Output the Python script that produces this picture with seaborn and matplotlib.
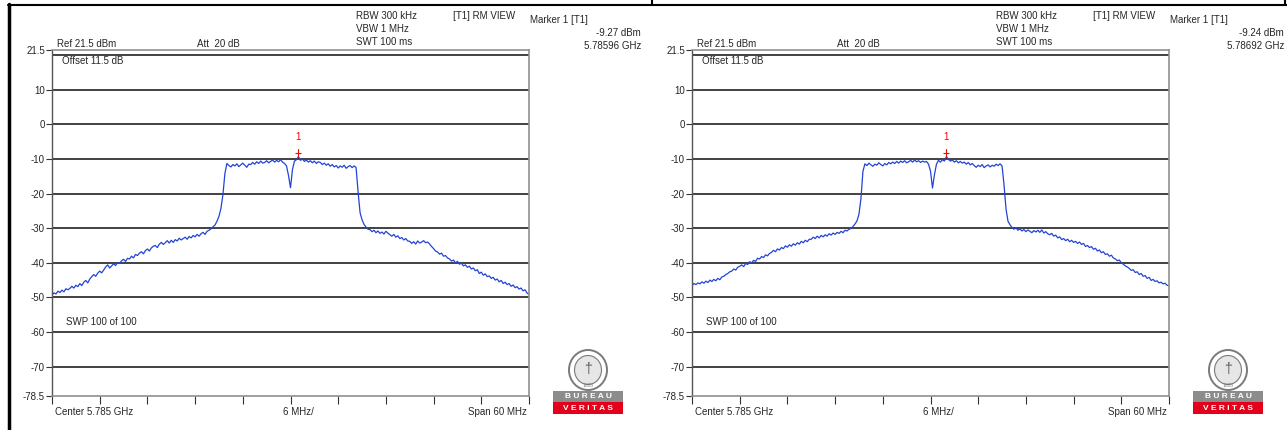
import numpy as np
import matplotlib
matplotlib.use("Agg")
import matplotlib.pyplot as plt
from matplotlib.patches import Ellipse, Rectangle
import seaborn as sns

# sweep settings: 60 MHz span read as 241 points, 0.25 MHz apart
f_step = 0.25
n_points = 241
freq = np.arange(n_points) * f_step

# trace (dBm), 20 values = 5 MHz per row
trace_left = [
    -49.3, -48.7, -49.0, -48.2, -48.6, -47.9, -48.4, -47.5, -47.8, -47.4, -46.8, -47.3, -46.5, -46.9, -46.0, -46.6, -45.6, -45.1, -45.8, -44.7,
    -44.0, -43.4, -43.9, -43.0, -42.4, -42.9, -42.1, -41.2, -40.6, -41.5, -40.9, -40.3, -40.8, -39.9, -40.2, -39.4, -39.0, -39.6, -38.7, -38.9,
    -38.1, -38.6, -37.6, -37.9, -37.2, -36.8, -37.4, -36.5, -36.0, -36.6, -35.7, -35.2, -35.0, -35.6, -34.6, -34.1, -34.7, -34.2, -33.6, -34.3,
    -33.5, -34.1, -33.3, -33.7, -32.9, -33.4, -33.0, -32.6, -33.2, -32.4, -32.8, -32.1, -32.5, -31.8, -32.3, -31.6, -31.2, -31.8, -30.9, -30.6,
    -30.2, -29.6, -29.1, -28.0, -26.6, -24.3, -20.3, -14.2, -11.3, -11.9, -12.3, -11.6, -12.0, -11.4, -12.2, -11.7, -11.2, -11.8, -12.4, -11.5,
    -11.6, -11.0, -11.5, -10.8, -11.3, -10.6, -11.2, -11.0, -10.5, -11.1, -10.7, -10.3, -10.9, -10.4, -10.8, -10.2, -10.9, -11.3, -12.0, -14.8,
    -18.3, -13.0, -10.6, -10.2, -9.3, -10.4, -10.0, -10.7, -10.3, -10.9, -10.5, -11.1, -10.6, -11.3, -10.8, -11.0, -11.6, -11.2, -11.8, -11.4,
    -12.1, -11.6, -12.3, -11.9, -12.6, -12.0, -12.4, -11.8, -12.7, -12.2, -11.9, -12.5, -12.0, -12.5, -19.5, -25.5, -27.6, -28.9, -29.7, -30.3,
    -30.4, -31.0, -30.6, -31.3, -30.8, -31.5, -31.1, -31.7, -30.9, -31.4, -31.9, -32.3, -31.8, -32.6, -32.2, -33.0, -32.7, -33.4, -33.0, -33.7,
    -33.8, -34.4, -33.9, -34.6, -33.7, -34.3, -34.0, -33.6, -34.2, -34.0, -34.6, -35.3, -35.9, -36.6, -36.9, -37.5, -37.2, -38.1, -37.9, -38.6,
    -38.9, -39.5, -39.2, -40.0, -39.6, -40.4, -40.1, -40.9, -40.6, -41.3, -41.0, -41.8, -41.5, -42.3, -42.0, -43.1, -42.7, -43.6, -43.2, -44.0,
    -43.8, -44.5, -44.2, -45.0, -44.7, -45.5, -45.1, -46.0, -45.6, -46.3, -46.0, -46.8, -46.4, -47.2, -46.9, -47.6, -47.3, -48.1, -47.8, -48.7,
    -49.2,
]

# trace (dBm)
trace_right = [
    -46.6, -46.0, -46.3, -45.8, -46.1, -45.5, -45.9, -45.3, -45.7, -45.0, -45.4, -44.8, -45.2, -44.5, -44.9, -44.1, -43.9, -43.4, -43.1, -42.6,
    -42.4, -41.8, -42.1, -41.3, -41.0, -40.6, -41.1, -40.2, -40.5, -39.7, -40.0, -39.3, -39.6, -38.7, -38.9, -38.2, -38.5, -37.7, -38.0, -37.3,
    -37.0, -36.4, -36.8, -36.0, -36.3, -35.6, -35.9, -35.1, -35.5, -34.8, -35.2, -34.5, -34.9, -34.2, -34.6, -33.8, -34.2, -33.5, -33.9, -33.2,
    -33.2, -32.6, -33.0, -32.3, -32.8, -32.1, -32.5, -31.9, -32.3, -31.6, -32.0, -31.4, -31.8, -31.2, -31.5, -30.9, -31.3, -30.6, -30.8, -30.3,
    -30.1, -29.5, -28.8, -27.9, -26.0, -21.5, -13.6, -11.4, -11.9, -11.2, -11.7, -12.1, -11.5, -11.8, -11.1, -11.6, -12.0, -11.3, -11.7, -11.0,
    -11.4, -10.9, -11.3, -10.7, -11.2, -10.6, -11.0, -10.5, -11.1, -10.8, -10.4, -10.9, -10.3, -10.8, -10.5, -11.0, -10.6, -10.9, -10.7, -11.5,
    -13.5, -18.4, -14.5, -11.5, -10.4, -10.9, -10.2, -10.6, -9.3, -10.1, -10.6, -10.3, -10.9, -10.5, -11.1, -10.7, -11.2, -10.9, -11.5, -11.0,
    -11.7, -11.3, -11.9, -12.4, -11.8, -12.2, -11.6, -12.5, -12.0, -11.7, -12.3, -11.8, -12.1, -11.5, -11.9, -11.4, -12.0, -17.5, -24.5, -28.0,
    -29.0, -29.8, -30.3, -29.9, -30.6, -30.2, -30.8, -30.4, -31.0, -30.5, -30.9, -31.3, -30.7, -31.1, -30.6, -31.2, -30.5, -31.4, -31.0, -31.6,
    -31.9, -31.5, -32.3, -32.0, -32.8, -32.5, -33.3, -33.0, -33.6, -33.2, -33.9, -33.5, -34.1, -33.8, -34.4, -34.0, -34.7, -34.4, -35.3, -35.0,
    -35.6, -35.3, -36.1, -35.8, -36.6, -36.3, -37.1, -36.8, -37.6, -37.4, -38.1, -37.8, -38.6, -38.9, -39.4, -39.2, -40.0, -40.4, -40.9, -41.2,
    -41.6, -42.2, -42.0, -42.8, -42.6, -43.4, -43.1, -43.9, -43.7, -44.5, -44.2, -45.1, -44.8, -45.4, -45.2, -45.8, -45.6, -46.1, -45.9, -46.5,
    -46.6,
]

# marker 1 readouts (MHz above 5.755 GHz, dBm)
marker_freq = [30.96, 31.92]
marker_level = [-9.27, -9.24]
marker_text = [["-9.27 dBm", "5.78596 GHz"], ["-9.24 dBm", "5.78692 GHz"]]

y_ticks = [21.5, 10, 0, -10, -20, -30, -40, -50, -60, -70, -78.5]
y_ticklabels = ["21.5", "10", "0", "-10", "-20", "-30", "-40", "-50", "-60", "-70", "-78.5"]
grid_levels = [20, 10, 0, -10, -20, -30, -40, -50, -60, -70]
x_ticks = [0, 6, 12, 18, 24, 30, 36, 42, 48, 54, 60]

W, H = 1287, 430


def px(x, y):
    # pixel position -> figure fraction
    return x / W, 1 - y / H


sns.set_style("white")
plt.rcParams['font.family'] = ['Liberation Sans', 'DejaVu Sans']
plt.rcParams['font.size'] = 7

fig = plt.figure(figsize=(W / 100, H / 100), dpi=100)

# table borders of the report page
fig.add_artist(plt.Line2D([8 / W, 1], [1 - 5 / H] * 2, color="black", lw=1.5))
fig.add_artist(plt.Line2D([9 / W] * 2, [0, 1 - 4 / H], color="black", lw=2.5))
fig.add_artist(plt.Line2D([652 / W] * 2, [1 - 5 / H, 1], color="black", lw=1.5))
fig.add_artist(plt.Line2D([1285 / W] * 2, [1 - 5 / H, 1], color="black", lw=1.5))

traces = [trace_left, trace_right]
offsets = [0, 640]
ax_left = [52, 692]

for i in range(2):
    dx = offsets[i]
    ax = fig.add_axes([ax_left[i] / W, 1 - 396 / H, 477 / W, 346 / H])
    sns.lineplot(x=freq, y=traces[i], ax=ax, color="#2244d6", linewidth=0.9)
    ax.set_xlim(0, 60)
    ax.set_ylim(-78.5, 21.5)
    ax.hlines(grid_levels, 0, 60, color="#333333", lw=1.3, zorder=1)

    ax.set_yticks(y_ticks)
    ax.set_yticklabels(y_ticklabels)
    ax.set_xticks(x_ticks)
    ax.set_xticklabels([])
    ax.tick_params(axis="y", direction="out", length=4, width=0.8, color="#333333", pad=1, labelsize=7)
    ax.tick_params(axis="x", direction="out", length=6, width=0.8, color="#333333")
    ax.tick_params(left=True, bottom=True)
    for side in ["top", "right", "bottom"]:
        ax.spines[side].set_color("#909090")
        ax.spines[side].set_linewidth(1.2)
    ax.spines["left"].set_color("#555555")
    ax.spines["left"].set_linewidth(1.0)

    # marker 1
    mf, ml = marker_freq[i], marker_level[i]
    ax.plot([mf, mf], [ml, ml + 2.2], color="red", lw=0.8)
    ax.plot([mf], [ml + 1.0], marker="_", ms=5, mew=0.8, color="red")
    ax.text(mf, ml + 5.6, "1", color="red", ha="center", va="center", fontsize=7)

    ax.text(1.3, 18.4, "Offset 11.5 dB", ha="left", va="center", fontsize=7)
    ax.text(1.8, -57.2, "SWP 100 of 100", ha="left", va="center", fontsize=7)
    ax.set_xlabel("")
    ax.set_ylabel("")

    # header lines above the screen
    fig.text(*px(57 + dx, 44), "Ref 21.5 dBm", ha="left", va="center")
    fig.text(*px(197 + dx, 44), "Att  20 dB", ha="left", va="center")
    fig.text(*px(356 + dx, 16), "RBW 300 kHz", ha="left", va="center")
    fig.text(*px(356 + dx, 29), "VBW 1 MHz", ha="left", va="center")
    fig.text(*px(356 + dx, 42), "SWT 100 ms", ha="left", va="center")
    fig.text(*px(453 + dx, 16), "[T1] RM VIEW", ha="left", va="center")
    fig.text(*px(530 + dx, 20), "Marker 1 [T1]", ha="left", va="center")
    fig.text(*px(641 + dx * 1.005, 33), marker_text[i][0], ha="right", va="center")
    fig.text(*px(641 + dx * 1.005, 46), marker_text[i][1], ha="right", va="center")

    # footer
    fig.text(*px(55 + dx, 412), "Center 5.785 GHz", ha="left", va="center")
    fig.text(*px(283 + dx, 412), "6 MHz/", ha="left", va="center")
    fig.text(*px(527 + dx, 412), "Span 60 MHz", ha="right", va="center")

    # Bureau Veritas logo
    lx = 553 + dx
    lax = fig.add_axes([lx / W, 1 - 414 / H, 70 / W, 66 / H])
    lax.set_xlim(0, 70)
    lax.set_ylim(66, 0)
    lax.axis("off")
    lax.add_patch(Ellipse((35, 22), 38, 40, fc="white", ec="#7a7a7a", lw=1.4, clip_on=False))
    lax.add_patch(Ellipse((35, 22), 27, 29, fc="#e6e6e6", ec="#7a7a7a", lw=0.8, clip_on=False))
    lax.text(35, 21, "\u2020", ha="center", va="center", fontsize=10, color="#555555")
    lax.text(35, 37.5, "1828", ha="center", va="center", fontsize=3.5, color="#7a7a7a")
    lax.add_patch(Rectangle((0, 43), 70, 11, fc="#8c8c8c", ec="none"))
    lax.add_patch(Rectangle((0, 54), 70, 12, fc="#e3001b", ec="none"))
    lax.text(35, 48.5, "B U R E A U", ha="center", va="center", fontsize=6, color="white", weight="bold")
    lax.text(35, 60, "V E R I T A S", ha="center", va="center", fontsize=6, color="white", weight="bold")

fig.savefig("out.png", dpi=100)
